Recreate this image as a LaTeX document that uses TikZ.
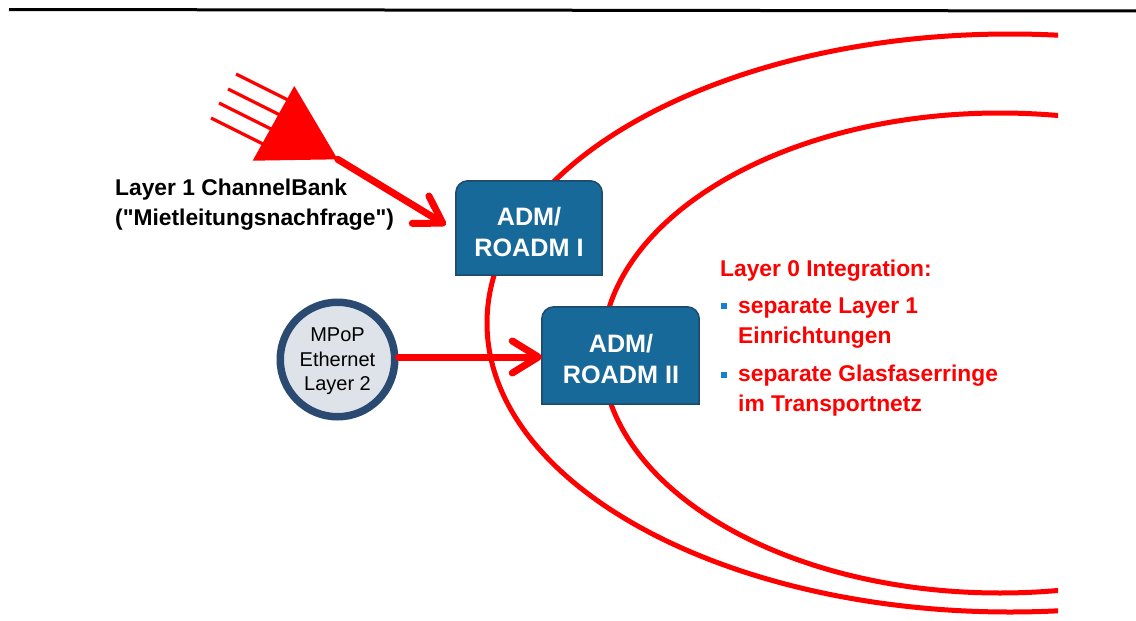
\documentclass[tikz,border=0pt]{standalone}
\usepackage{fontspec}
\newfontfamily\arial{Liberation Sans}
\setmainfont{Liberation Sans}
\usetikzlibrary{arrows.meta}
\definecolor{admblue}{HTML}{17699A}
\definecolor{admedge}{HTML}{1D4A68}
\definecolor{circfill}{HTML}{DEE3EA}
\definecolor{circedge}{HTML}{2B4A72}
\definecolor{bulletblue}{HTML}{1581CF}
\definecolor{pptred}{HTML}{FF0000}
\begin{document}
\begin{tikzpicture}[x=1pt,y=-1pt,
  ring/.style={draw=pptred, line width=5pt},
  feed/.style={draw=pptred, line width=7pt, line cap=round, -{Straight Barb[length=26pt,width=32pt,round]}},
  ray/.style={draw=pptred, line width=3.2pt},
  admshape/.style={rectangle, minimum width=146pt, minimum height=94pt, inner sep=0pt},
  admbox/.style={fill=admblue, draw=admedge, line width=1.5pt},
  admtext/.style={text=white, font=\arial\fontsize{25.2}{31}\selectfont\bfseries, align=center, inner sep=0pt, text depth=0pt},
  lbl/.style={font=\arial\fontsize{22.8}{29.5}\selectfont\bfseries, align=left, inner sep=0pt, anchor=base west},
  bulletsq/.style={fill=bulletblue, minimum size=6pt, inner sep=0pt, anchor=north west}
]
\useasboundingbox (0,0) rectangle (1136,621);
% top rule
\draw[line width=3pt] (9,9.5) -- (1136,11);
% fibre rings
\begin{scope}
\clip (0,0) rectangle (1058,621);
\draw[ring] (1010,323) ellipse [x radius=523pt, y radius=289pt];
\draw[ring] (1000,353) ellipse [x radius=398pt, y radius=240pt];
\end{scope}
% ADM I
\node[admshape] (adm1) at (529,228) {};
\path[admbox] (adm1.south west) [rounded corners=12pt] -- (adm1.north west) -- (adm1.north east) [sharp corners] -- (adm1.south east) -- cycle;
\node[admtext] (adm1txt) at (529,231.5) {ADM/\\ROADM I};
% ADM II
\node[admshape, minimum width=157pt, minimum height=97pt] (adm2) at (620.5,355.5) {};
\path[admbox] (adm2.south west) [rounded corners=12pt] -- (adm2.north west) -- (adm2.north east) [sharp corners] -- (adm2.south east) -- cycle;
\node[admtext] (adm2txt) at (621,359) {ADM/\\ROADM II};
% MPoP circle
\node[circle, minimum size=114.5pt, fill=circfill, draw=circedge, line width=7.5pt, inner sep=0pt, align=center, text depth=0pt, font=\arial\fontsize{20}{24.5}\selectfont] (mpop) at (337.5,359.5) {MPoP\\Ethernet\\Layer 2};
\coordinate (hy) at (0,357);
\draw[feed] (mpop.east |- hy) -- (adm2.west |- hy);
% channel bank icon
\draw[ray] (236,74) -- ++(60,30);
\draw[ray] (228,89) -- ++(60,30);
\draw[ray] (219,103) -- ++(60,30);
\draw[ray] (211,118) -- ++(60,30);
\fill[pptred] (294.3,86) -- (252.7,160.7) -- (337.7,159.3) -- cycle;
\coordinate (cb) at (337.7,159.3);
\draw[feed] (cb) -- ([xshift=-10pt,yshift=3pt]adm1.west);
% labels
\node[lbl] (cbl) at (115,225) {Layer 1 ChannelBank\\("Mietleitungsnachfrage")};
\node[lbl, text=pptred] (l0) at (720,276) {Layer 0 Integration:};
\node[bulletsq] (sq1) at (721,303) {};
\node[lbl, text=pptred] (b1) at (738,343) {separate Layer 1\\Einrichtungen};
\node[bulletsq] (sq2) at (721,372) {};
\node[lbl, text=pptred] (b2) at (738,411) {separate Glasfaserringe\\im Transportnetz};
\end{tikzpicture}
\end{document}
